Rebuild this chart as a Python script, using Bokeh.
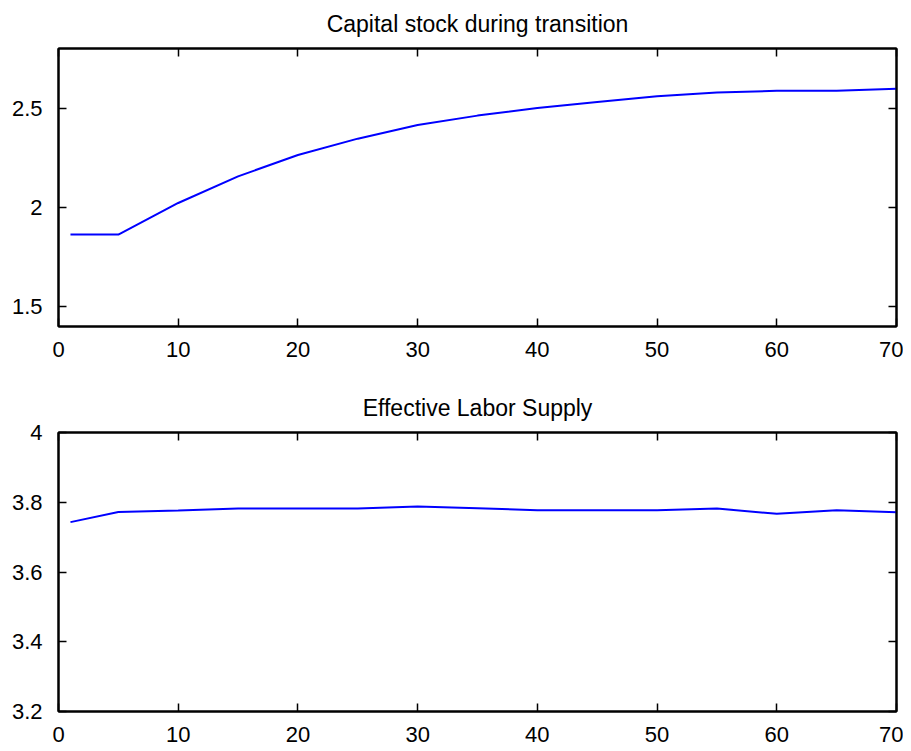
from bokeh.plotting import figure
from bokeh.layouts import column
from bokeh.models import Range1d, FixedTicker, LinearAxis, CustomLabelingPolicy
from bokeh.embed import file_html
from bokeh.resources import INLINE

# ---- data ----
periods = [1, 5, 10, 15, 20, 25, 30, 35, 40, 45, 50, 55, 60, 65, 70]
capital = [1.863, 1.863, 2.022, 2.156, 2.264, 2.346, 2.415, 2.462, 2.500, 2.530,
           2.560, 2.578, 2.587, 2.587, 2.597]
labor = [3.743, 3.772, 3.776, 3.782, 3.782, 3.782, 3.788, 3.783, 3.777, 3.777,
         3.777, 3.782, 3.767, 3.777, 3.771]

x_ticks = [0, 10, 20, 30, 40, 50, 60, 70]
cap_ticks = [1.5, 2.0, 2.5]
cap_tick_labels = ["1.5", "2", "2.5"]
lab_ticks = [3.2, 3.4, 3.6, 3.8, 4.0]
lab_tick_labels = ["3.2", "3.4", "3.6", "3.8", "4"]

titles = ["Capital stock during transition", "Effective Labor Supply"]

FONT = "Liberation Sans"
TICK_FS = "22px"
TITLE_FS = "23px"

HIDE_ALL = """
for (const i of indices)
    indices.unset(i)
return indices
"""


def style_axis(ax, ticks, labels=None, show_labels=True):
    ax.ticker = FixedTicker(ticks=ticks)
    ax.axis_line_color = "black"
    ax.axis_line_width = 2
    ax.major_tick_line_color = "black"
    ax.major_tick_line_width = 1.5
    ax.major_tick_in = 8
    ax.major_tick_out = 0
    ax.minor_tick_line_color = None
    ax.major_label_text_font = FONT
    ax.major_label_text_color = "black"
    if labels is not None:
        ax.major_label_overrides = {t: l for t, l in zip(ticks, labels)}
    if show_labels:
        ax.major_label_text_font_size = TICK_FS
    else:
        ax.major_label_text_font_size = "1px"
        ax.major_label_standoff = 0
        ax.major_label_policy = CustomLabelingPolicy(code=HIDE_ALL)


def make_panel(title, xs, ys, yr, yticks, ylabels, height, top, bottom):
    p = figure(width=903, height=height, output_backend="svg", toolbar_location=None,
               x_range=Range1d(0, 70), y_range=Range1d(*yr),
               min_border_left=58, min_border_right=7,
               min_border_top=top, min_border_bottom=bottom)
    p.title.text = title
    p.title.align = "center"
    p.title.text_font = FONT
    p.title.text_font_size = TITLE_FS
    p.title.text_font_style = "normal"
    p.title.text_color = "black"
    p.title.standoff = 16
    p.xgrid.visible = False
    p.ygrid.visible = False
    p.outline_line_color = "black"
    p.outline_line_width = 2
    p.outline_line_alpha = 1
    p.background_fill_color = "white"
    p.border_fill_color = "white"

    style_axis(p.xaxis[0], x_ticks)
    p.xaxis[0].major_label_standoff = 15
    style_axis(p.yaxis[0], yticks, ylabels)
    p.yaxis[0].major_label_standoff = 16

    top_ax = LinearAxis()
    style_axis(top_ax, x_ticks, show_labels=False)
    p.add_layout(top_ax, "above")
    right_ax = LinearAxis()
    style_axis(right_ax, yticks, show_labels=False)
    p.add_layout(right_ax, "right")

    p.line(xs, ys, line_color="#0000ff", line_width=2)
    return p


p1 = make_panel(titles[0], periods, capital, (1.4, 2.8), cap_ticks, cap_tick_labels,
                height=372, top=47, bottom=46)
p2 = make_panel(titles[1], periods, labor, (3.2, 4.0), lab_ticks, lab_tick_labels,
                height=379, top=60, bottom=40)

layout = column(p1, p2, spacing=0)
open("out.html", "w").write(file_html(layout, INLINE))
